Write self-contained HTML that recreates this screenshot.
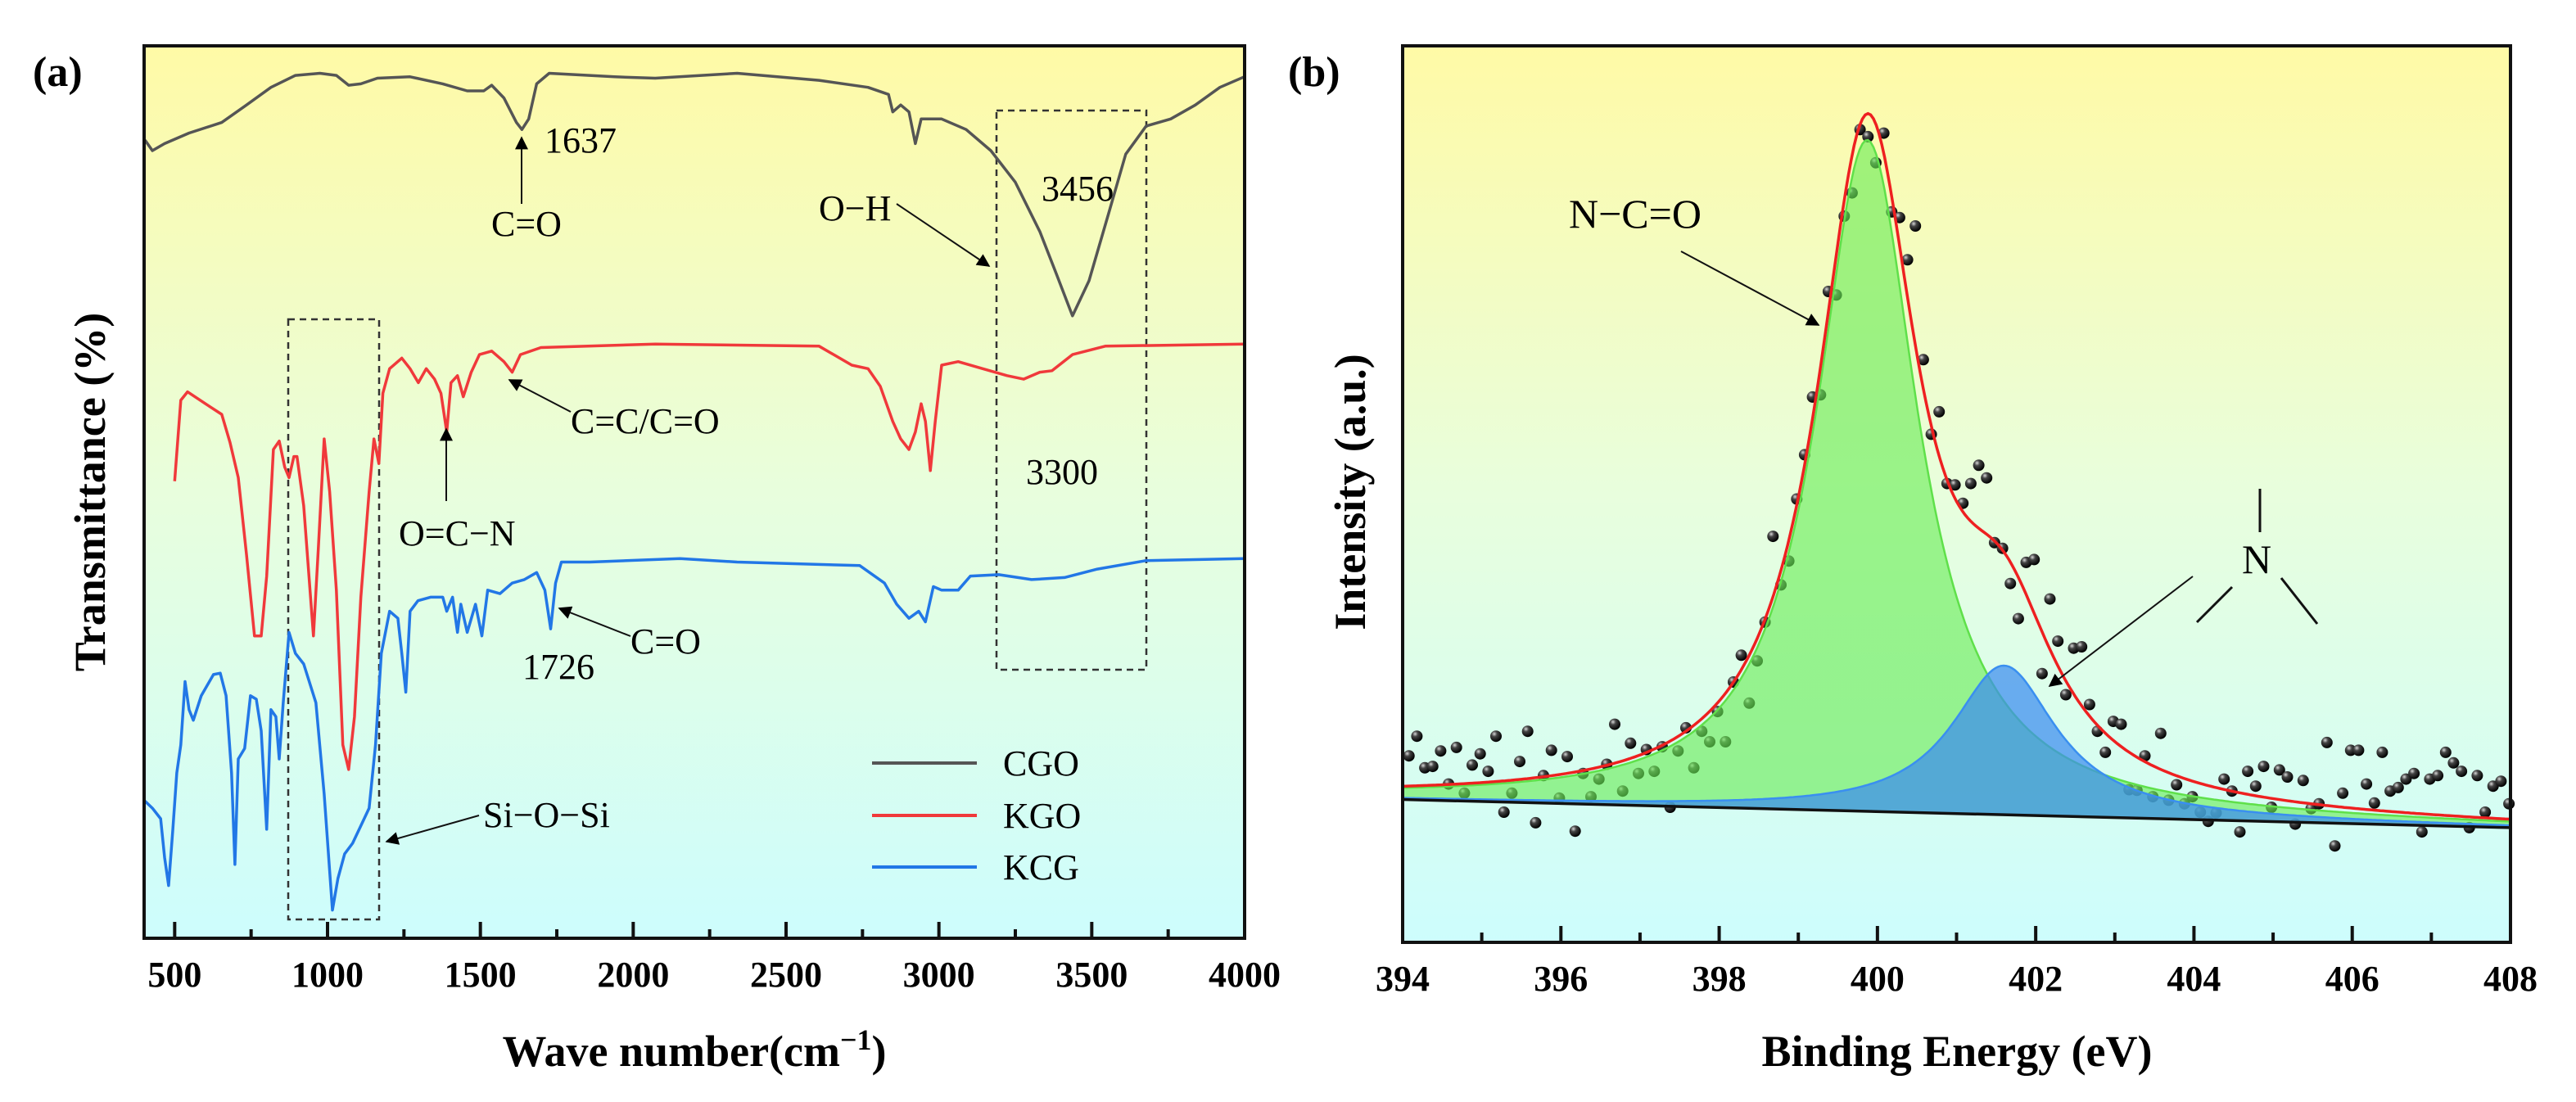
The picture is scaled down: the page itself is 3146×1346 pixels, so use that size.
<!DOCTYPE html>
<html><head><meta charset="utf-8">
<style>
html,body{margin:0;padding:0;background:#fff;}
svg{display:block;font-family:"Liberation Serif",serif;}
</style></head>
<body>
<svg id="fig" width="3146" height="1346" viewBox="0 0 3146 1346" xmlns="http://www.w3.org/2000/svg">
<defs>
<linearGradient id="bg" x1="0" y1="0" x2="0" y2="1">
<stop offset="0" stop-color="#fffaa6"/><stop offset="0.5" stop-color="#e8fedd"/><stop offset="1" stop-color="#cdfdfd"/>
</linearGradient>
<radialGradient id="ball" cx="0.35" cy="0.3" r="0.7">
<stop offset="0" stop-color="#d8d8d8"/><stop offset="0.35" stop-color="#444"/><stop offset="1" stop-color="#000"/>
</radialGradient>
<marker id="ah" viewBox="0 0 10 10" refX="9" refY="5" markerWidth="9" markerHeight="9" orient="auto" markerUnits="userSpaceOnUse">
<path d="M0,0 L10,5 L0,10 z" fill="#000"/>
</marker>
<marker id="ah2" viewBox="0 0 10 10" refX="9" refY="5" markerWidth="22" markerHeight="16" orient="auto" markerUnits="userSpaceOnUse">
<path d="M0,0 L10,5 L0,10 z" fill="#000"/>
</marker>
</defs>
<g id="pa"></g>
<g id="pb"></g>
</svg>
<script>
// ---------- Panel (a) data: FTIR ----------
const cgoWn = [403,427,467,547,654,735,815,895,975,1029,1069,1109,1163,1270,1377,1457,1511,1537,1577,1618,1636,1658,1684,1725,1939,2072,2340,2608,2768,2835,2849,2875,2902,2923,2942,3009,3089,3170,3250,3330,3384,3437,3491,3558,3611,3678,3758,3839,3919,3999];
const cgoT = [1135,1120,1130,1145,1160,1185,1210,1227,1230,1227,1213,1215,1223,1225,1215,1205,1205,1213,1195,1160,1150,1165,1215,1230,1225,1223,1230,1220,1210,1200,1175,1185,1175,1130,1165,1165,1150,1120,1075,1005,945,885,935,1035,1115,1155,1165,1185,1210,1225];
const kgoWn = [500,520,542,601,654,681,708,735,761,783,801,823,842,860,874,890,900,922,954,970,989,1007,1029,1050,1069,1088,1109,1136,1152,1168,1181,1203,1243,1270,1297,1323,1350,1371,1390,1404,1425,1444,1470,1497,1537,1577,1604,1631,1698,2072,2608,2715,2768,2808,2849,2875,2902,2923,2942,2956,2972,2988,3009,3063,3143,3223,3277,3330,3370,3437,3544,3999];
const kgoT = [650,765,777,760,745,705,655,545,430,430,515,695,707,670,655,685,685,615,430,555,710,635,495,275,240,315,485,635,710,675,775,810,825,810,790,810,795,775,720,790,800,770,805,830,835,820,805,830,840,845,842,815,810,785,735,710,695,720,760,735,665,735,815,820,810,800,795,805,807,830,842,845];
const kcgWn = [403,427,454,467,480,494,507,520,534,547,561,587,627,649,668,686,697,708,729,748,767,783,801,815,831,842,855,874,895,922,962,989,1016,1034,1056,1082,1109,1136,1157,1176,1203,1230,1243,1256,1270,1296,1337,1377,1390,1409,1425,1436,1457,1484,1505,1524,1564,1604,1644,1684,1711,1730,1746,1765,1858,2153,2340,2741,2822,2862,2902,2934,2956,2982,3009,3063,3103,3196,3303,3411,3518,3678,3999];
const kcgT = [195,185,170,115,75,155,235,275,365,325,310,345,375,377,345,235,105,255,270,345,340,295,155,325,315,255,335,435,405,390,335,205,40,85,120,135,160,185,275,405,465,455,405,350,465,480,485,485,465,485,435,475,435,475,430,495,490,505,510,520,495,440,505,535,535,540,535,530,505,475,455,465,450,500,495,495,515,517,510,513,525,537,540];
const aTicks = [500,1000,1500,2000,2500,3000,3500,4000];
const aMinor = [750,1250,1750,2250,2750,3250,3750];
const seriesNames = ["CGO","KGO","KCG"];

// ---------- Panel (b) data: XPS N1s ----------
const bStart = 394.08, bStep = 0.1;
const bIntensity = [265,293,248,250,272,225,277,212,252,268,243,293,185,212,257,300,170,237,273,205,264,158,240,207,232,253,310,215,283,240,274,243,278,192,272,305,248,300,285,328,285,370,408,340,400,455,577,508,542,630,693,775,778,925,920,1032,1065,1155,1145,1108,1150,1038,1030,970,1018,828,722,754,652,650,624,652,678,660,568,560,510,460,540,544,382,488,428,352,418,420,338,300,270,314,310,217,216,265,207,297,202,224,197,207,185,172,184,232,215,157,243,222,250,192,245,235,168,230,190,197,284,137,212,273,273,225,198,270,215,220,232,240,157,232,237,270,255,243,163,237,185,222,229,197];
const baselineEnds = [203,163];
const peakCenters = [399.87,401.6];
const peakHeights = [954,212];
const peakHwhm = [0.78,0.8];
const bTicks = [394,396,398,400,402,404,406,408];

const NS="http://www.w3.org/2000/svg";
function mk(parent,tag,attrs,text){const e=document.createElementNS(NS,tag);for(const k in attrs)e.setAttribute(k,attrs[k]);if(text!==undefined)e.textContent=text;parent.appendChild(e);return e;}

// ===== Panel a =====
const pa=document.getElementById('pa');
const AL=176,AR=1520,AT=56,AB=1146;
const ax=w=>AL+(w-400)/3600*(AR-AL);
const ay=v=>AB-v/1269*(AB-AT);
let r=mk(pa,'rect',{x:AL,y:AT,width:AR-AL,height:AB-AT,fill:'url(#bg)'});


// dashed boxes
let db=mk(pa,'rect',{x:1217,y:135,width:183,height:683,fill:'none',stroke:'#333','stroke-width':2.5,'stroke-dasharray':'8,6'});


db=mk(pa,'rect',{x:352,y:390,width:111,height:733,fill:'none',stroke:'#333','stroke-width':2.5,'stroke-dasharray':'8,6'});


const aSeries=[[cgoWn,cgoT,'#555555','cgo-line'],[kgoWn,kgoT,'#f0393b','kgo-line'],[kcgWn,kcgT,'#2277e6','kcg-line']];
aSeries.forEach(s=>{
  const d=s[0].map((w,i)=>(i?'L':'M')+ax(w).toFixed(1)+','+ay(s[1][i]).toFixed(1)).join(' ');
  const p=mk(pa,'path',{d:d,fill:'none',stroke:s[2],'stroke-width':3.5,'stroke-linejoin':'round'});
  
  
});
// frame
r=mk(pa,'rect',{x:AL,y:AT,width:AR-AL,height:AB-AT,fill:'none',stroke:'#111','stroke-width':4});


aTicks.forEach(t=>{
  const l=mk(pa,'line',{x1:ax(t),x2:ax(t),y1:AB,y2:AB-20,stroke:'#111','stroke-width':4});
  
  
  const tx=mk(pa,'text',{x:ax(t),y:1205,'text-anchor':'middle','font-size':44,'font-weight':'bold'},String(t));
  
  
});
aMinor.forEach(t=>{
  const l=mk(pa,'line',{x1:ax(t),x2:ax(t),y1:AB,y2:AB-11,stroke:'#111','stroke-width':4});
  
  
});
// legend
const legY=[932,996,1059];
seriesNames.forEach((n,i)=>{
  const l=mk(pa,'line',{x1:1065,x2:1193,y1:legY[i],y2:legY[i],stroke:aSeries[i][2],'stroke-width':4});
  
  
  const t=mk(pa,'text',{x:1225,y:legY[i]+15,'font-size':44},n);
  
  
});
</script>
<script>
// annotations panel a
(function(){
const pa=document.getElementById('pa');
function t(x,y,s,name,size){const e=mk(pa,'text',{x:x,y:y,'font-size':size||44},s);}
function ar(x1,y1,x2,y2,name){const e=mk(pa,'line',{x1:x1,y1:y1,x2:x2,y2:y2,stroke:'#111','stroke-width':2,'marker-end':'url(#ah2)'});}
t(665,186,'1637','label-1637');
ar(637,249,637,168,'arrow-1637');
t(600,288,'C=O','label-co-cgo');
t(1272,245,'3456','label-3456');
t(1000,269,'O−H','label-oh');
ar(1095,249,1208,325,'arrow-oh');
t(697,529,'C=C/C=O','label-cc-co');
ar(697,503,622,464,'arrow-cc-co');
t(487,666,'O=C−N','label-ocn');
ar(545,612,545,524,'arrow-ocn');
t(1253,591,'3300','label-3300');
t(770,798,'C=O','label-co-kcg');
ar(770,777,683,743,'arrow-co-kcg');
t(638,829,'1726','label-1726');
t(590,1010,'Si−O−Si','label-si-o-si');
ar(585,996,472,1028,'arrow-si-o-si');
const a=mk(pa,'text',{x:40,y:105,'font-size':52,'font-weight':'bold'},'(a)');


const xt=mk(pa,'text',{x:848,y:1302,'text-anchor':'middle','font-size':54,'font-weight':'bold'},'Wave number(cm');


const sp=mk(xt,'tspan',{dy:-20,'font-size':36},'−1');
const sp2=mk(xt,'tspan',{dy:20},')');
const yt=mk(pa,'text',{x:0,y:0,'text-anchor':'middle','font-size':54,'font-weight':'bold',transform:'translate(128,601) rotate(-90)'},'Transmittance (%)');


})();

// ===== Panel b =====
(function(){
const pb=document.getElementById('pb');
const BL=1713,BR=3066,BT=56,BB=1151;
const bx=e=>BL+(e-394)/14*(BR-BL);
const by=v=>BB-v/1274*(BB-BT);
let r=mk(pb,'rect',{x:BL,y:BT,width:BR-BL,height:BB-BT,fill:'url(#bg)'});


const energies=bIntensity.map((_,i)=>bStart+i*bStep);
// dots first (fills overlay them)
bIntensity.forEach((v,i)=>{
  const c=mk(pb,'circle',{cx:bx(energies[i]).toFixed(1),cy:by(v).toFixed(1),r:7,fill:'url(#ball)'});
  
  
});
const base=e=>baselineEnds[0]+(baselineEnds[1]-baselineEnds[0])*(e-394)/14;
const lor=(e,k)=>peakHeights[k]/(1+Math.pow((e-peakCenters[k])/peakHwhm[k],2));
const N=400, grid=[];
for(let i=0;i<=N;i++)grid.push(394+14*i/N);
const cols=[['rgba(105,235,85,0.62)','#5fe04a','green-peak-nco'],['rgba(60,140,240,0.72)','#3a8ff0','blue-peak-n']];
[0,1].forEach(k=>{
  const top=grid.map(e=>[bx(e),by(base(e)+lor(e,k))]);
  const bot=grid.slice().reverse().map(e=>[bx(e),by(base(e))]);
  const d='M'+top.map(p=>p[0].toFixed(1)+','+p[1].toFixed(1)).join(' L')+' L'+bot.map(p=>p[0].toFixed(1)+','+p[1].toFixed(1)).join(' L')+'Z';
  const f=mk(pb,'path',{d:d,fill:cols[k][0],stroke:'none'});
  
  
  const l=mk(pb,'path',{d:'M'+top.map(p=>p[0].toFixed(1)+','+p[1].toFixed(1)).join(' L'),fill:'none',stroke:cols[k][1],'stroke-width':2.5});
  
  
});
const bl=mk(pb,'line',{x1:bx(394),y1:by(base(394)),x2:bx(408),y2:by(base(408)),stroke:'#111','stroke-width':3.5});


const env=mk(pb,'path',{d:'M'+grid.map(e=>bx(e).toFixed(1)+','+by(base(e)+lor(e,0)+lor(e,1)).toFixed(1)).join(' L'),fill:'none',stroke:'#ee2020','stroke-width':3.5});


r=mk(pb,'rect',{x:BL,y:BT,width:BR-BL,height:BB-BT,fill:'none',stroke:'#111','stroke-width':4});


for(let e=394;e<=408;e++){
  const l=mk(pb,'line',{x1:bx(e),x2:bx(e),y1:BB,y2:BB-(e%2===0?20:12),stroke:'#111','stroke-width':4});
  
  
}
bTicks.forEach(e=>{
  const tx=mk(pb,'text',{x:bx(e),y:1210,'text-anchor':'middle','font-size':44,'font-weight':'bold'},String(e));
  
  
});
function t(x,y,s,name,size){const e=mk(pb,'text',{x:x,y:y,'font-size':size||48},s);}
function ar(x1,y1,x2,y2,name){const e=mk(pb,'line',{x1:x1,y1:y1,x2:x2,y2:y2,stroke:'#111','stroke-width':2,'marker-end':'url(#ah2)'});}
t(1916,278,'N−C=O','label-nco',50);
ar(2053,307,2221,397,'arrow-nco');
t(2738,700,'N','label-n',50);
[[2760,597,2760,650],[2683,760,2726,717],[2786,706,2830,762]].forEach(c=>{
  const l=mk(pb,'line',{x1:c[0],y1:c[1],x2:c[2],y2:c[3],stroke:'#111','stroke-width':3});
  
  
});
ar(2678,704,2503,838,'arrow-n');
const a=mk(pb,'text',{x:1573,y:105,'font-size':52,'font-weight':'bold'},'(b)');


const xt=mk(pb,'text',{x:2390,y:1302,'text-anchor':'middle','font-size':54,'font-weight':'bold'},'Binding Energy (eV)');


const yt=mk(pb,'text',{x:0,y:0,'text-anchor':'middle','font-size':54,'font-weight':'bold',transform:'translate(1667,601) rotate(-90)'},'Intensity (a.u.)');


})();
</script>
</body></html>
